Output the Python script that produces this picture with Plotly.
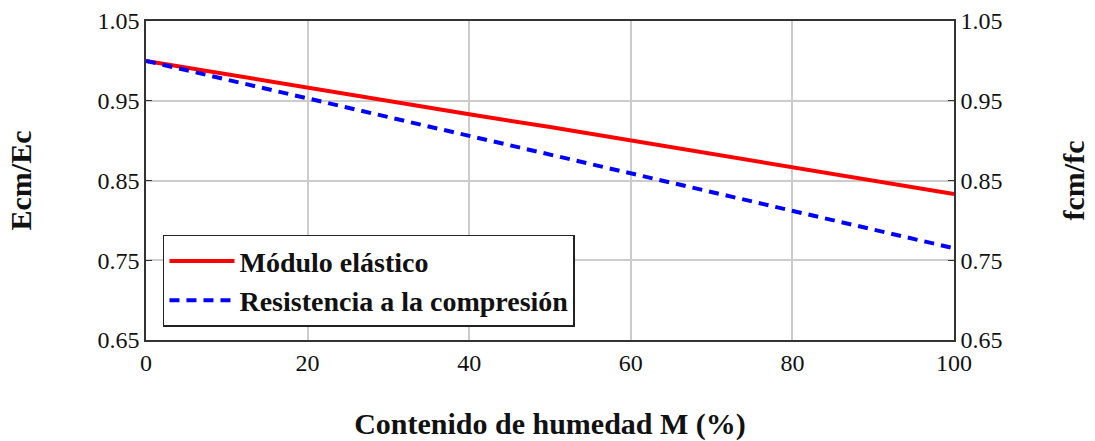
import plotly.graph_objects as go

# Moisture content M (%) and normalised properties
humedad = [0, 10, 20, 30, 40, 50, 60, 70, 80, 90, 100]
modulo_elastico = [1.000, 0.983, 0.967, 0.950, 0.933, 0.917, 0.900, 0.883, 0.867, 0.850, 0.833]
resistencia_compresion = [1.000, 0.9765, 0.953, 0.9295, 0.906, 0.8825, 0.859, 0.8355, 0.812, 0.7885, 0.765]

x_ticks = [0, 20, 40, 60, 80, 100]
y_ticks = [0.65, 0.75, 0.85, 0.95, 1.05]
y_range = [0.65, 1.05]

serif = "Liberation Serif"
ink = "#111111"

fig = go.Figure()
fig.add_trace(go.Scatter(
    x=humedad, y=modulo_elastico, mode="lines",
    name="<b>Módulo elástico</b>",
    line=dict(color="#ff0000", width=4),
))
fig.add_trace(go.Scatter(
    x=humedad, y=resistencia_compresion, mode="lines",
    name="<b>Resistencia a la compresión</b>",
    line=dict(color="#0000ff", width=4, dash="10px,7px"),
    yaxis="y2",
))

tick_font = dict(family=serif, size=24, color=ink)
title_font = dict(family=serif, size=30, color=ink)

axis_common = dict(
    showline=True, linecolor="#333333", linewidth=1.5,
    ticks="inside", ticklen=6, tickcolor="#333333",
    tickfont=tick_font, zeroline=False, automargin=False,
)

fig.update_layout(
    width=1095, height=441,
    margin=dict(l=146, r=141, t=21, b=101),
    paper_bgcolor="white", plot_bgcolor="white",
    xaxis=dict(
        range=[0, 100], tickvals=x_ticks,
        showgrid=True, gridcolor="#cccccc", gridwidth=1.5,
        mirror=True, ticks="", automargin=False,
        showline=True, linecolor="#333333", linewidth=1.5,
        tickfont=tick_font, zeroline=False,
        title=dict(text="<b>Contenido de humedad M (%)</b>",
                   font=title_font, standoff=38),
    ),
    yaxis=dict(
        range=y_range, tickvals=y_ticks, tickformat=".2f",
        showgrid=True, gridcolor="#cccccc", gridwidth=1.5,
        mirror=True,
        title=dict(text="<b>Ecm/Ec</b>", font=title_font, standoff=57),
        **axis_common,
    ),
    yaxis2=dict(
        range=y_range, tickvals=y_ticks, tickformat=".2f",
        overlaying="y", side="right", showgrid=False,
        title=dict(text="<b>fcm/fc</b>", font=title_font, standoff=61),
        **axis_common,
    ),
    legend=dict(
        x=0.021, y=0.33, xanchor="left", yanchor="top",
        bgcolor="white", bordercolor="#222222", borderwidth=1.5,
        font=dict(family=serif, size=28, color=ink),
        itemwidth=65, tracegroupgap=0,
    ),
    showlegend=True,
)

fig.write_html("out.html")
